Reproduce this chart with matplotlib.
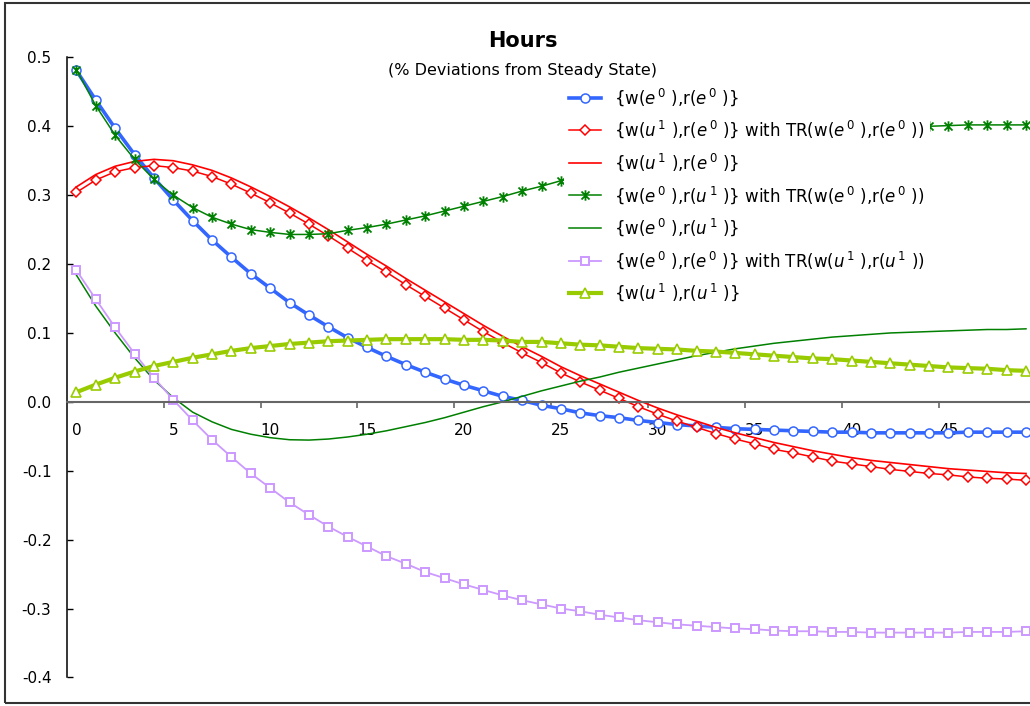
import matplotlib
matplotlib.use("Agg")
import matplotlib.pyplot as plt
from matplotlib.path import Path
from matplotlib.patches import Rectangle

periods = list(range(50))
x_labels = ["0", "5", "10", "15", "20", "25", "30", "35", "40", "45"]
y_labels = ["-0.4", "-0.3", "-0.2", "-0.1", "0.0", "0.1", "0.2", "0.3", "0.4", "0.5"]

w_e0_r_e0 = [0.481, 0.438, 0.397, 0.359, 0.325, 0.293, 0.263, 0.235, 0.210, 0.186,
             0.165, 0.144, 0.126, 0.109, 0.093, 0.079, 0.066, 0.054, 0.043, 0.033,
             0.024, 0.016, 0.008, 0.002, -0.005, -0.010, -0.016, -0.020, -0.023, -0.027,
             -0.030, -0.033, -0.035, -0.037, -0.039, -0.040, -0.041, -0.042, -0.043, -0.044,
             -0.044, -0.045, -0.045, -0.045, -0.045, -0.045, -0.044, -0.044, -0.044, -0.044]

w_u1_r_e0_tr = [0.304, 0.322, 0.334, 0.340, 0.343, 0.340, 0.335, 0.327, 0.316, 0.303,
                0.289, 0.274, 0.258, 0.241, 0.223, 0.205, 0.188, 0.170, 0.153, 0.136,
                0.119, 0.102, 0.086, 0.071, 0.057, 0.042, 0.029, 0.017, 0.005, -0.007,
                -0.018, -0.028, -0.037, -0.046, -0.054, -0.061, -0.069, -0.074, -0.080, -0.086,
                -0.090, -0.094, -0.098, -0.101, -0.104, -0.106, -0.109, -0.111, -0.112, -0.114]

w_u1_r_e0 = [0.312, 0.330, 0.342, 0.349, 0.352, 0.350, 0.344, 0.336, 0.325, 0.312,
             0.298, 0.283, 0.267, 0.250, 0.232, 0.214, 0.197, 0.179, 0.162, 0.145,
             0.128, 0.111, 0.095, 0.080, 0.066, 0.051, 0.038, 0.026, 0.014, 0.002,
             -0.009, -0.019, -0.028, -0.037, -0.045, -0.052, -0.059, -0.065, -0.071, -0.076,
             -0.081, -0.085, -0.088, -0.091, -0.094, -0.097, -0.099, -0.101, -0.103, -0.104]

w_e0_r_u1_tr = [0.482, 0.430, 0.387, 0.352, 0.323, 0.300, 0.282, 0.268, 0.258, 0.250,
                0.246, 0.243, 0.243, 0.244, 0.249, 0.253, 0.258, 0.264, 0.270, 0.277,
                0.284, 0.291, 0.298, 0.306, 0.313, 0.321, 0.328, 0.335, 0.342, 0.348,
                0.354, 0.360, 0.365, 0.370, 0.374, 0.378, 0.382, 0.385, 0.388, 0.391,
                0.393, 0.395, 0.397, 0.399, 0.400, 0.401, 0.402, 0.402, 0.402, 0.402]

w_e0_r_u1 = [0.184, 0.139, 0.100, 0.064, 0.032, 0.006, -0.015, -0.029, -0.040, -0.047,
             -0.052, -0.055, -0.0555, -0.054, -0.051, -0.047, -0.042, -0.036, -0.030, -0.023,
             -0.015, -0.007, 0.000, 0.008, 0.016, 0.023, 0.030, 0.036, 0.043, 0.049,
             0.055, 0.061, 0.067, 0.072, 0.077, 0.081, 0.085, 0.088, 0.091, 0.094,
             0.096, 0.098, 0.100, 0.101, 0.102, 0.103, 0.104, 0.105, 0.105, 0.106]

w_e0_r_e0_tr_u1 = [0.191, 0.149, 0.108, 0.070, 0.035, 0.003, -0.027, -0.055, -0.080, -0.104,
                   -0.125, -0.146, -0.164, -0.181, -0.196, -0.210, -0.224, -0.235, -0.247, -0.256,
                   -0.265, -0.273, -0.281, -0.288, -0.294, -0.300, -0.304, -0.309, -0.313, -0.317,
                   -0.320, -0.323, -0.325, -0.327, -0.329, -0.330, -0.332, -0.333, -0.333, -0.334,
                   -0.334, -0.335, -0.335, -0.335, -0.335, -0.335, -0.334, -0.334, -0.334, -0.333]

w_u1_r_u1 = [0.014, 0.025, 0.035, 0.044, 0.052, 0.058, 0.064, 0.069, 0.074, 0.078,
             0.081, 0.084, 0.086, 0.088, 0.089, 0.090, 0.091, 0.091, 0.091, 0.091,
             0.090, 0.090, 0.089, 0.087, 0.087, 0.085, 0.083, 0.082, 0.080, 0.078,
             0.077, 0.076, 0.074, 0.073, 0.071, 0.069, 0.067, 0.065, 0.063, 0.062,
             0.060, 0.058, 0.056, 0.054, 0.052, 0.050, 0.049, 0.048, 0.046, 0.045]

labels = [
    r"{w($e^{\,0}$ ),r($e^{\,0}$ )}",
    r"{w($u^{\,1}$ ),r($e^{\,0}$ )} with TR(w($e^{\,0}$ ),r($e^{\,0}$ ))",
    r"{w($u^{\,1}$ ),r($e^{\,0}$ )}",
    r"{w($e^{\,0}$ ),r($u^{\,1}$ )} with TR(w($e^{\,0}$ ),r($e^{\,0}$ ))",
    r"{w($e^{\,0}$ ),r($u^{\,1}$ )}",
    r"{w($e^{\,0}$ ),r($e^{\,0}$ )} with TR(w($u^{\,1}$ ),r($u^{\,1}$ ))",
    r"{w($u^{\,1}$ ),r($u^{\,1}$ )}",
]

# excel style star: an x with a vertical bar through it
star = Path([(-1, -1), (1, 1), (-1, 1), (1, -1), (0, -1.3), (0, 1.3)],
            [Path.MOVETO, Path.LINETO, Path.MOVETO, Path.LINETO, Path.MOVETO, Path.LINETO])

plt.rcParams["font.family"] = "DejaVu Sans"
plt.rcParams["mathtext.fontset"] = "dejavusans"

fig = plt.figure(figsize=(10.30, 7.06), dpi=100)
ax = fig.add_axes([66.7 / 1030, 28.6 / 706, 969 / 1030, 620 / 706])

ax.plot(periods, w_e0_r_e0, color="#3366FF", lw=2.6, marker="o", ms=6.5,
        mfc="white", mec="#3366FF", mew=1.1, label=labels[0])
ax.plot(periods, w_u1_r_e0_tr, color="#FF0000", lw=1.1, marker="D", ms=5,
        mfc="white", mec="#FF0000", mew=1.1, label=labels[1])
ax.plot(periods, w_u1_r_e0, color="#FF0000", lw=1.2, label=labels[2])
ax.plot(periods, w_e0_r_u1_tr, color="#008000", lw=1.1, marker=star, ms=7.5,
        mec="#008000", mew=1.3, label=labels[3])
ax.plot(periods, w_e0_r_u1, color="#008000", lw=1.1, label=labels[4])
ax.plot(periods, w_e0_r_e0_tr_u1, color="#CC99FF", lw=1.3, marker="s", ms=6,
        mfc="white", mec="#CC99FF", mew=1.4, label=labels[5])
ax.plot(periods, w_u1_r_u1, color="#99CC00", lw=3, marker="^", ms=6.5,
        mfc="white", mec="#99CC00", mew=1.2, label=labels[6])

ax.set_xlim(-0.5, 49.5)
ax.set_ylim(-0.4, 0.5)

ax.spines["top"].set_visible(False)
ax.spines["right"].set_visible(False)
ax.spines["left"].set_linewidth(1.1)
ax.spines["bottom"].set_position(("data", 0))
ax.spines["bottom"].set_color("#666666")
ax.spines["bottom"].set_linewidth(1.5)

ax.set_yticks([-0.4, -0.3, -0.2, -0.1, 0.0, 0.1, 0.2, 0.3, 0.4, 0.5])
ax.set_yticklabels(y_labels)
ax.tick_params(axis="y", direction="in", length=4.5, width=1, pad=11, labelsize=11)

ax.set_xticks([4.5, 9.5, 14.5, 19.5, 24.5, 29.5, 34.5, 39.5, 44.5])
ax.set_xticklabels([])
ax.set_xticks([0, 5, 10, 15, 20, 25, 30, 35, 40, 45], minor=True)
ax.set_xticklabels(x_labels, minor=True)
ax.tick_params(axis="x", which="major", direction="out", length=4, width=1.2, color="#666666")
ax.tick_params(axis="x", which="minor", length=0, pad=15, labelsize=11)

leg = ax.legend(loc="upper left", bbox_to_anchor=(564 / 1030, 1 - 81 / 706),
                bbox_transform=fig.transFigure, frameon=True, fancybox=False,
                edgecolor="none", facecolor="white", framealpha=1,
                fontsize=12, handlelength=1.9, handletextpad=0.8,
                labelspacing=0.66, borderpad=0.3, borderaxespad=0)
leg.set_zorder(5)

fig.text(523, 706 - 40.7, "Hours", transform=None, ha="center", va="center",
         fontsize=15, fontweight="bold")
fig.text(523, 706 - 70, "(% Deviations from Steady State)", transform=None,
         ha="center", va="center", fontsize=11.5)

fig.patches.append(Rectangle((5, 3), 1100, 700, transform=None, fill=False,
                             edgecolor="#333333", lw=1.5))

fig.savefig("out.png", dpi=100)
